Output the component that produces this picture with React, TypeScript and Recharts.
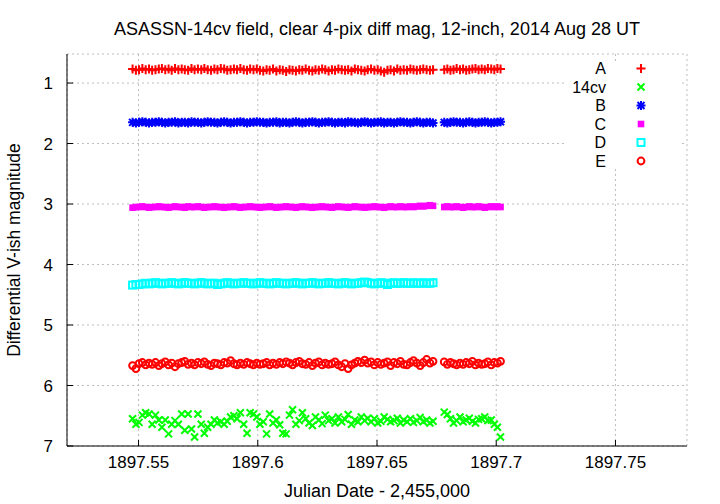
import React from 'react';
import { ScatterChart, Scatter, XAxis, YAxis, CartesianGrid } from 'recharts';

// ========================================
// DATA
// ========================================

// Julian Date - 2,455,000 ; the run has a short gap after 1897.6735
const jdTimes = [
  1897.5475, 1897.5489, 1897.5502, 1897.5516, 1897.553, 1897.5544, 1897.5557, 1897.5571, 1897.5585, 1897.5598,
  1897.5612, 1897.5626, 1897.5639, 1897.5653, 1897.5667, 1897.5681, 1897.5694, 1897.5708, 1897.5722, 1897.5735,
  1897.5749, 1897.5763, 1897.5776, 1897.579, 1897.5804, 1897.5818, 1897.5831, 1897.5845, 1897.5859, 1897.5872,
  1897.5886, 1897.59, 1897.5913, 1897.5927, 1897.5941, 1897.5955, 1897.5968, 1897.5982, 1897.5996, 1897.6009,
  1897.6023, 1897.6037, 1897.605, 1897.6064, 1897.6078, 1897.6092, 1897.6105, 1897.6119, 1897.6133, 1897.6146,
  1897.616, 1897.6174, 1897.6187, 1897.6201, 1897.6215, 1897.6229, 1897.6242, 1897.6256, 1897.627, 1897.6283,
  1897.6297, 1897.6311, 1897.6324, 1897.6338, 1897.6352, 1897.6366, 1897.6379, 1897.6393, 1897.6407, 1897.642,
  1897.6434, 1897.6448, 1897.6461, 1897.6475, 1897.6489, 1897.6503, 1897.6516, 1897.653, 1897.6544, 1897.6557,
  1897.6571, 1897.6585, 1897.6598, 1897.6612, 1897.6626, 1897.664, 1897.6653, 1897.6667, 1897.6681, 1897.6694,
  1897.6708, 1897.6722, 1897.6735,
  1897.6782, 1897.6795, 1897.6808, 1897.6821, 1897.6834, 1897.6848, 1897.6861, 1897.6874, 1897.6887, 1897.69,
  1897.6913, 1897.6926, 1897.6939, 1897.6952, 1897.6965, 1897.6979, 1897.6992, 1897.7005, 1897.7018,
];

const magA = [
  0.77, 0.79, 0.78, 0.76, 0.78, 0.77, 0.79, 0.78, 0.77, 0.76,
  0.78, 0.77, 0.79, 0.76, 0.78, 0.77, 0.78, 0.79, 0.76, 0.78,
  0.77, 0.78, 0.76, 0.78, 0.79, 0.77, 0.78, 0.76, 0.77, 0.79,
  0.78, 0.77, 0.78, 0.76, 0.78, 0.79, 0.77, 0.78, 0.77, 0.79,
  0.80, 0.78, 0.79, 0.77, 0.80, 0.78, 0.79, 0.81, 0.78, 0.79,
  0.80, 0.78, 0.79, 0.77, 0.79, 0.80, 0.78, 0.79, 0.77, 0.78,
  0.80, 0.78, 0.79, 0.77, 0.78, 0.79, 0.78, 0.80, 0.77, 0.78,
  0.79, 0.80, 0.78, 0.77, 0.79, 0.78, 0.80, 0.82, 0.79, 0.78,
  0.80, 0.77, 0.79, 0.78, 0.79, 0.77, 0.78, 0.79, 0.78, 0.77,
  0.78, 0.79, 0.78,
  0.78, 0.77, 0.79, 0.78, 0.76, 0.78, 0.77, 0.79, 0.78, 0.77,
  0.76, 0.78, 0.77, 0.78, 0.76, 0.77, 0.78, 0.76, 0.77,
];

const mag14cv = [
  6.55, 6.64, 6.61, 6.49, 6.45, 6.47, 6.64, 6.49, 6.57, 6.69,
  6.57, 6.80, 6.64, 6.58, 6.64, 6.47, 6.74, 6.47, 6.72, 6.85,
  6.47, 6.64, 6.79, 6.69, 6.64, 6.57, 6.62, 6.60, 6.64, 6.59,
  6.52, 6.50, 6.55, 6.45, 6.64, 6.79, 6.45, 6.47, 6.52, 6.64,
  6.60, 6.80, 6.47, 6.62, 6.57, 6.65, 6.79, 6.80, 6.49, 6.40,
  6.64, 6.58, 6.45, 6.55, 6.62, 6.66, 6.52, 6.57, 6.63, 6.49,
  6.58, 6.55, 6.62, 6.52, 6.60, 6.56, 6.48, 6.64, 6.57, 6.60,
  6.52, 6.58, 6.54, 6.60, 6.55, 6.62, 6.59, 6.52, 6.56, 6.60,
  6.58, 6.54, 6.62, 6.57, 6.60, 6.55, 6.61, 6.58, 6.53, 6.60,
  6.57, 6.62, 6.59,
  6.44, 6.48, 6.55, 6.62, 6.58, 6.52, 6.60, 6.57, 6.54, 6.59,
  6.62, 6.56, 6.55, 6.52, 6.58, 6.57, 6.64, 6.69, 6.85,
];

const magB = [
  1.65, 1.66, 1.65, 1.64, 1.65, 1.66, 1.65, 1.65, 1.64, 1.65,
  1.66, 1.65, 1.65, 1.64, 1.66, 1.65, 1.65, 1.66, 1.64, 1.65,
  1.65, 1.66, 1.65, 1.64, 1.65, 1.65, 1.66, 1.65, 1.64, 1.65,
  1.66, 1.65, 1.65, 1.64, 1.65, 1.66, 1.65, 1.65, 1.64, 1.65,
  1.65, 1.66, 1.65, 1.65, 1.64, 1.66, 1.65, 1.65, 1.66, 1.65,
  1.64, 1.65, 1.66, 1.65, 1.65, 1.64, 1.65, 1.66, 1.65, 1.65,
  1.64, 1.65, 1.66, 1.65, 1.65, 1.66, 1.64, 1.65, 1.65, 1.66,
  1.65, 1.64, 1.65, 1.66, 1.65, 1.65, 1.64, 1.66, 1.65, 1.65,
  1.66, 1.65, 1.64, 1.65, 1.65, 1.66, 1.65, 1.64, 1.65, 1.66,
  1.65, 1.65, 1.66,
  1.65, 1.66, 1.65, 1.64, 1.65, 1.65, 1.66, 1.65, 1.64, 1.65,
  1.66, 1.65, 1.65, 1.64, 1.65, 1.66, 1.65, 1.65, 1.64,
];

const magC = [
  3.06, 3.05, 3.05, 3.04, 3.05, 3.06, 3.05, 3.05, 3.04, 3.05,
  3.05, 3.06, 3.05, 3.04, 3.05, 3.05, 3.06, 3.04, 3.05, 3.05,
  3.04, 3.05, 3.06, 3.05, 3.05, 3.04, 3.05, 3.05, 3.06, 3.05,
  3.05, 3.04, 3.05, 3.06, 3.05, 3.05, 3.04, 3.05, 3.05, 3.06,
  3.05, 3.05, 3.04, 3.05, 3.06, 3.05, 3.05, 3.04, 3.05, 3.05,
  3.06, 3.05, 3.04, 3.05, 3.05, 3.06, 3.05, 3.05, 3.04, 3.05,
  3.05, 3.06, 3.05, 3.04, 3.05, 3.05, 3.06, 3.05, 3.04, 3.05,
  3.05, 3.06, 3.05, 3.05, 3.04, 3.05, 3.05, 3.06, 3.05, 3.04,
  3.05, 3.05, 3.04, 3.05, 3.05, 3.04, 3.05, 3.04, 3.03, 3.04,
  3.03, 3.02, 3.03,
  3.05, 3.04, 3.05, 3.05, 3.04, 3.05, 3.06, 3.05, 3.04, 3.05,
  3.05, 3.04, 3.05, 3.06, 3.05, 3.04, 3.05, 3.04, 3.05,
];

// D stops at the gap
const magD = [
  4.34, 4.33, 4.33, 4.32, 4.31, 4.32, 4.31, 4.30, 4.31, 4.32,
  4.31, 4.31, 4.30, 4.31, 4.32, 4.31, 4.30, 4.31, 4.31, 4.32,
  4.31, 4.30, 4.31, 4.32, 4.31, 4.31, 4.33, 4.32, 4.31, 4.30,
  4.31, 4.32, 4.31, 4.31, 4.30, 4.31, 4.31, 4.32, 4.31, 4.30,
  4.31, 4.31, 4.32, 4.31, 4.30, 4.31, 4.31, 4.32, 4.31, 4.31,
  4.30, 4.31, 4.32, 4.31, 4.31, 4.30, 4.31, 4.32, 4.31, 4.31,
  4.30, 4.31, 4.31, 4.32, 4.31, 4.30, 4.31, 4.32, 4.31, 4.31,
  4.30, 4.29, 4.30, 4.31, 4.32, 4.31, 4.30, 4.31, 4.33, 4.31,
  4.30, 4.31, 4.31, 4.30, 4.31, 4.31, 4.30, 4.31, 4.31, 4.30,
  4.31, 4.31, 4.30,
];

const magE = [
  5.67, 5.72, 5.64, 5.62, 5.66, 5.63, 5.65, 5.62, 5.67, 5.64,
  5.61, 5.66, 5.63, 5.69, 5.64, 5.62, 5.60, 5.65, 5.63, 5.66,
  5.62, 5.64, 5.61, 5.65, 5.67, 5.63, 5.64, 5.66, 5.62, 5.63,
  5.59, 5.64, 5.66, 5.63, 5.65, 5.62, 5.64, 5.66, 5.63, 5.65,
  5.64, 5.62, 5.66, 5.63, 5.65, 5.62, 5.64, 5.61, 5.63, 5.66,
  5.62, 5.60, 5.64, 5.65, 5.62, 5.67, 5.63, 5.61, 5.66, 5.63,
  5.65, 5.64, 5.61, 5.66, 5.69, 5.64, 5.72, 5.66, 5.63, 5.60,
  5.62, 5.58, 5.63, 5.61, 5.66, 5.62, 5.65, 5.63, 5.61, 5.67,
  5.62, 5.64, 5.60, 5.65, 5.66, 5.62, 5.59, 5.63, 5.67, 5.62,
  5.57, 5.63, 5.60,
  5.61, 5.65, 5.62, 5.64, 5.66, 5.63, 5.65, 5.62, 5.64, 5.60,
  5.66, 5.63, 5.65, 5.64, 5.61, 5.66, 5.62, 5.63, 5.60,
];

const xTicks = [1897.55, 1897.6, 1897.65, 1897.7, 1897.75];
const yTicks = [1, 2, 3, 4, 5, 6, 7];

// ========================================
// POINT MARKERS (gnuplot style)
// ========================================

const SW = 2;

function PlusMark({ cx, cy, color }: any) {
  return <path d={`M${cx - 4.5},${cy}H${cx + 4.5}M${cx},${cy - 4.5}V${cy + 4.5}`} stroke={color} strokeWidth={SW} fill="none" />;
}

function CrossMark({ cx, cy, color }: any) {
  const r = 3.5;
  return (
    <path
      d={`M${cx - r},${cy - r}L${cx + r},${cy + r}M${cx + r},${cy - r}L${cx - r},${cy + r}`}
      stroke={color}
      strokeWidth={SW}
      fill="none"
    />
  );
}

function StarMark({ cx, cy, color }: any) {
  const r = 3.5;
  return (
    <path
      d={`M${cx - r},${cy - r}L${cx + r},${cy + r}M${cx + r},${cy - r}L${cx - r},${cy + r}M${cx - 4.5},${cy}H${cx + 4.5}M${cx},${cy - 4.5}V${cy + 4.5}`}
      stroke={color}
      strokeWidth={SW}
      fill="none"
    />
  );
}

function FilledSquare({ cx, cy, color }: any) {
  return <rect x={cx - 3.3} y={cy - 3.3} width={6.6} height={6.6} fill={color} />;
}

function OpenSquare({ cx, cy, color }: any) {
  return <rect x={cx - 3.5} y={cy - 3.5} width={7} height={7} fill="none" stroke={color} strokeWidth={SW} />;
}

function OpenCircle({ cx, cy, color }: any) {
  return <circle cx={cx} cy={cy} r={3.4} fill="none" stroke={color} strokeWidth={SW} />;
}

const toPoints = (mags: number[]) => mags.map((mag, i) => ({ jd: jdTimes[i], mag }));

const SERIES = [
  { name: 'A', mags: magA, color: '#ff0000', Mark: PlusMark },
  { name: '14cv', mags: mag14cv, color: '#00ff00', Mark: CrossMark },
  { name: 'B', mags: magB, color: '#0000ff', Mark: StarMark },
  { name: 'C', mags: magC, color: '#ff00ff', Mark: FilledSquare },
  { name: 'D', mags: magD, color: '#00ffff', Mark: OpenSquare },
  { name: 'E', mags: magE, color: '#ff0000', Mark: OpenCircle },
];

const FONT = '"Liberation Sans", Arial, sans-serif';
const tickStyle = { fontSize: 17, fill: '#000' };
const emptyTick = () => <g />;

export default function App() {
  return (
    <div style={{ position: 'absolute', left: 0, top: 0, width: 720, height: 504, background: '#fff', fontFamily: FONT }}>
      <ScatterChart width={720} height={504} margin={{ top: 54, right: 33, bottom: 28, left: 0 }}>
        <CartesianGrid stroke="#bdbdbd" strokeDasharray="2 3" />
        <XAxis
          type="number"
          dataKey="jd"
          domain={[1897.52, 1897.78]}
          ticks={xTicks}
          allowDataOverflow
          height={30}
          tickSize={-6}
          tickMargin={16}
          tick={tickStyle}
          tickFormatter={(v: number) => String(Number(v.toFixed(2)))}
          stroke="#000"
        />
        <XAxis
          xAxisId="top"
          orientation="top"
          type="number"
          domain={[1897.52, 1897.78]}
          ticks={xTicks}
          allowDataOverflow
          height={0}
          tickSize={-6}
          tick={emptyTick}
          stroke="#000"
        />
        <YAxis
          type="number"
          dataKey="mag"
          reversed
          domain={[0.52, 7]}
          ticks={yTicks}
          allowDataOverflow
          width={67}
          tickSize={-6}
          tickMargin={20}
          tick={tickStyle}
          stroke="#000"
        />
        <YAxis
          yAxisId="right"
          orientation="right"
          type="number"
          reversed
          domain={[0.52, 7]}
          ticks={yTicks}
          allowDataOverflow
          width={0}
          tickSize={-6}
          tick={emptyTick}
          stroke="#000"
        />
        {SERIES.map((s) => (
          <Scatter
            key={s.name}
            name={s.name}
            data={toPoints(s.mags)}
            isAnimationActive={false}
            shape={(p: any) => <s.Mark cx={p.cx} cy={p.cy} color={s.color} />}
          />
        ))}
      </ScatterChart>

      {/* title, axis labels and key */}
      <svg width={720} height={504} style={{ position: 'absolute', left: 0, top: 0, pointerEvents: 'none' }}>
        <text x={377} y={34.5} textAnchor="middle" fontSize={18} fill="#000">
          ASASSN-14cv field, clear 4-pix diff mag, 12-inch, 2014 Aug 28 UT
        </text>
        <text x={377} y={496.5} textAnchor="middle" fontSize={18} fill="#000">
          Julian Date - 2,455,000
        </text>
        <text x={20} y={250} textAnchor="middle" fontSize={17.5} fill="#000" transform="rotate(-90 20 250)">
          Differential V-ish magnitude
        </text>
        <rect x={565} y={61} width={114} height={108} fill="#fff" />
        {SERIES.map((s, i) => {
          const y = 68.5 + i * 18.5;
          return (
            <g key={s.name}>
              <text x={606} y={y + 5.8} textAnchor="end" fontSize={16} fill="#000">
                {s.name}
              </text>
              <s.Mark cx={641} cy={y} color={s.color} />
            </g>
          );
        })}
      </svg>
    </div>
  );
}
